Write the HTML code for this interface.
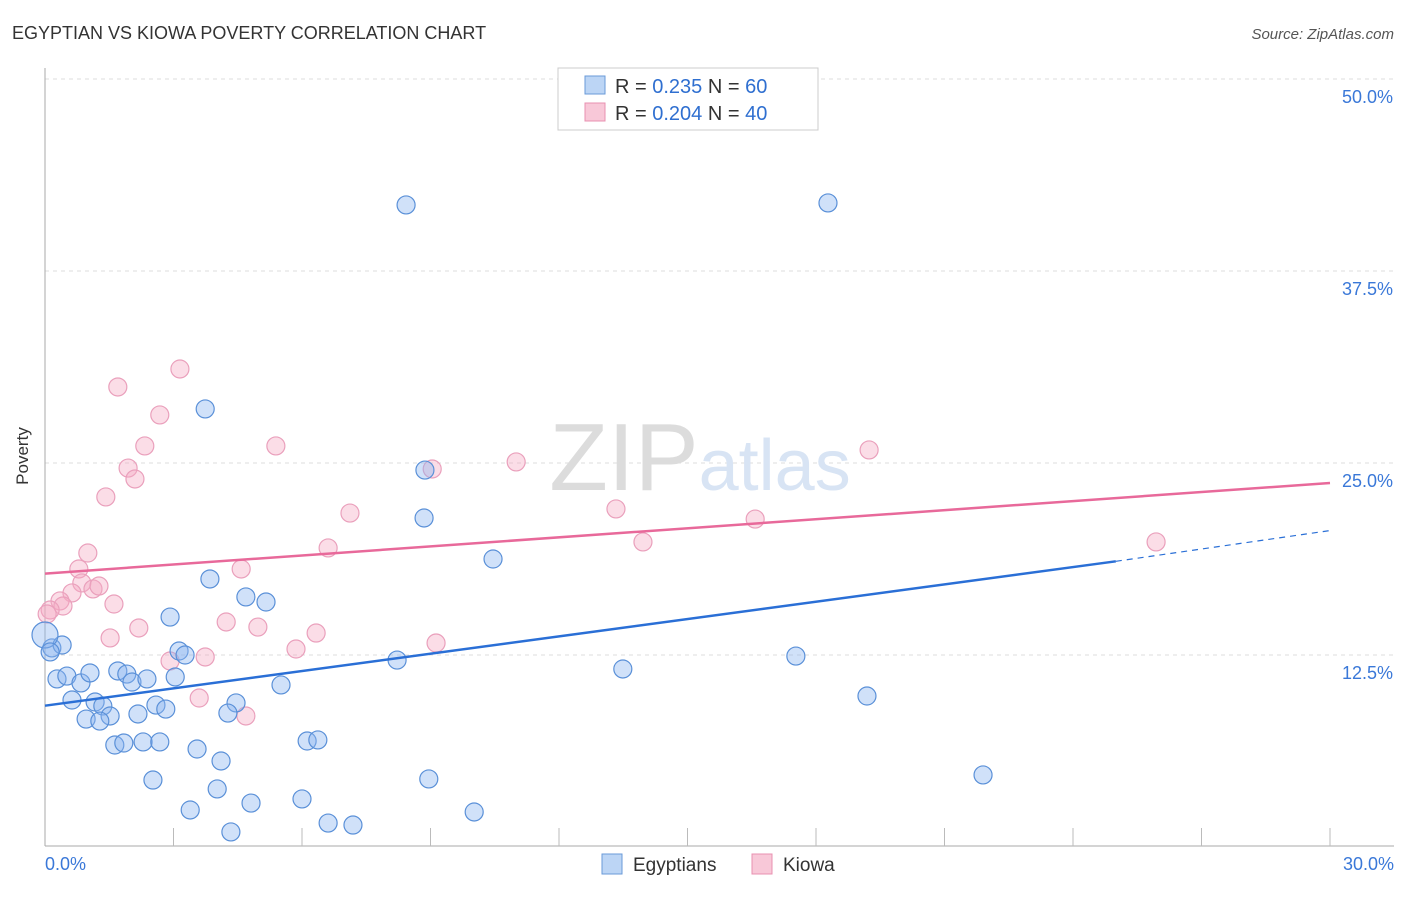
<!DOCTYPE html>
<html><head><meta charset="utf-8"><style>
body{margin:0;background:#fff;font-family:"Liberation Sans",sans-serif}
svg text{font-family:"Liberation Sans",sans-serif}
</style></head><body>
<svg width="1406" height="892" xmlns="http://www.w3.org/2000/svg">
<text x="12" y="39" font-size="18" fill="#333">EGYPTIAN VS KIOWA POVERTY CORRELATION CHART</text>
<text x="1394" y="39" font-size="15" fill="#555" text-anchor="end" font-style="italic">Source: ZipAtlas.com</text>
<g id="grid"></g>
<text x="700" y="490" font-size="96" fill="#e4e4e4" text-anchor="middle" font-family="Liberation Serif"><tspan fill="#dcdcdc">ZIP</tspan><tspan fill="#d8e4f4" font-family="Liberation Sans" font-size="72">atlas</tspan></text>
<g id="marks"></g>
<text x="28" y="456" font-size="17" fill="#333" text-anchor="middle" transform="rotate(-90 28 456)">Poverty</text>
<g>
<rect x="558" y="68" width="260" height="62" fill="#fff" stroke="#ccc"/>
<rect x="585" y="76" width="20" height="18" fill="#bcd5f5" stroke="#6a9ad8"/>
<text x="615" y="93" font-size="20" fill="#333">R = <tspan fill="#2f6fd0">0.235</tspan>   N = <tspan fill="#2f6fd0">60</tspan></text>
<rect x="585" y="103" width="20" height="18" fill="#f8c8d8" stroke="#e890b0"/>
<text x="615" y="120" font-size="20" fill="#333">R = <tspan fill="#2f6fd0">0.204</tspan>   N = <tspan fill="#2f6fd0">40</tspan></text>
</g>
<g>
<rect x="602" y="854" width="20" height="20" fill="#bcd5f5" stroke="#6a9ad8"/>
<text x="633" y="871" font-size="19" fill="#333">Egyptians</text>
<rect x="752" y="854" width="20" height="20" fill="#f8c8d8" stroke="#e890b0"/>
<text x="783" y="871" font-size="19" fill="#333">Kiowa</text>
</g>
<script>
const yTicks=[12.5,25.0,37.5,50.0];
const xTickLabels=["0.0%","30.0%"];
const blueX=[],blueY=[],pinkX=[],pinkY=[];
const bluePx=[[406,205],[828,203],[205,409],[425,470],[424,518],[493,559],[210,579],[246,597],[266,602],[170,617],[179,651],[185,655],[397,660],[623,669],[796,656],[867,696],[983,775],[52,648],[62,645],[57,679],[67,676],[81,683],[90,673],[118,671],[127,674],[132,682],[147,679],[175,677],[281,685],[72,700],[95,702],[103,706],[110,716],[86,719],[100,721],[138,714],[156,705],[166,709],[236,703],[228,713],[115,745],[124,743],[143,742],[160,742],[197,749],[221,761],[307,741],[318,740],[153,780],[217,789],[429,779],[251,803],[302,799],[190,810],[474,812],[328,823],[353,825],[231,832],[45,635],[50,652]];
const pinkPx=[[180,369],[118,387],[160,415],[145,446],[276,446],[128,468],[135,479],[106,497],[88,553],[79,569],[82,583],[93,589],[99,586],[72,593],[60,601],[63,606],[50,610],[47,614],[114,604],[241,569],[350,513],[328,548],[139,628],[110,638],[226,622],[258,627],[316,633],[296,649],[205,657],[170,661],[199,698],[246,716],[436,643],[432,469],[516,462],[616,509],[643,542],[755,519],[869,450],[1156,542]];
// convert read positions to data values (percent)
bluePx.forEach(p=>{blueX.push(+((p[0]-45)/1285*30).toFixed(2));blueY.push(+((847-p[1])/192*12.5).toFixed(2));});
pinkPx.forEach(p=>{pinkX.push(+((p[0]-45)/1285*30).toFixed(2));pinkY.push(+((847-p[1])/192*12.5).toFixed(2));});
const blueTrend=[0,9.2,25,18.6,30,20.6];
const pinkTrend=[0,17.8,30,23.7];
const sx=v=>45+v/30*1285, sy=v=>847-v/12.5*192;
const NS="http://www.w3.org/2000/svg";
function mk(t,a,p){const e=document.createElementNS(NS,t);for(const k in a)e.setAttribute(k,a[k]);p.appendChild(e);return e;}
const g=document.getElementById('grid');
yTicks.forEach(t=>{
 const l=mk('line',{x1:45,x2:1394,y1:sy(t),y2:sy(t),stroke:'#ddd','stroke-dasharray':'4,4'},g);
 
 
 const tx=mk('text',{x:1393,y:sy(t)+24,'font-size':18,fill:'#3a78d8','text-anchor':'end'},g);
 tx.textContent=t.toFixed(1)+'%';
 
 
});
const ax=mk('line',{x1:45,x2:45,y1:68,y2:846,stroke:'#aaa'},g);


const bx=mk('line',{x1:45,x2:1394,y1:846,y2:846,stroke:'#aaa'},g);


for(let i=1;i<=10;i++){const x=sx(i*3);const tk=mk('line',{x1:x,x2:x,y1:828,y2:846,stroke:'#bbb'},g);
 
 }
xTickLabels.forEach((s,i)=>{const t=mk('text',{x:i?1394:45,y:870,'font-size':18,fill:'#3a78d8','text-anchor':i?'end':'start'},g);t.textContent=s;
 
 });
const m=document.getElementById('marks');
pinkX.forEach((x,i)=>{const c=mk('circle',{cx:sx(x),cy:sy(pinkY[i]),r:9,fill:'rgba(244,170,195,0.4)',stroke:'#eaa0bc','stroke-width':1.2},m);
 
 });
blueX.forEach((x,i)=>{const c=mk('circle',{cx:sx(x),cy:sy(blueY[i]),r:(i>=58&&i==58)?13:9,fill:'rgba(138,180,240,0.4)',stroke:'#5a90d8','stroke-width':1.2},m);
 
 });
const bl=mk('line',{x1:sx(blueTrend[0]),y1:sy(blueTrend[1]),x2:sx(blueTrend[2]),y2:sy(blueTrend[3]),stroke:'#2a6fd6','stroke-width':2.5},m);


const bd=mk('line',{x1:sx(blueTrend[2]),y1:sy(blueTrend[3]),x2:sx(blueTrend[4]),y2:sy(blueTrend[5]),stroke:'#2a6fd6','stroke-width':1.2,'stroke-dasharray':'6,5'},m);


const pl=mk('line',{x1:sx(pinkTrend[0]),y1:sy(pinkTrend[1]),x2:sx(pinkTrend[2]),y2:sy(pinkTrend[3]),stroke:'#e8699a','stroke-width':2.5},m);


</script>
</svg>
</body></html>
